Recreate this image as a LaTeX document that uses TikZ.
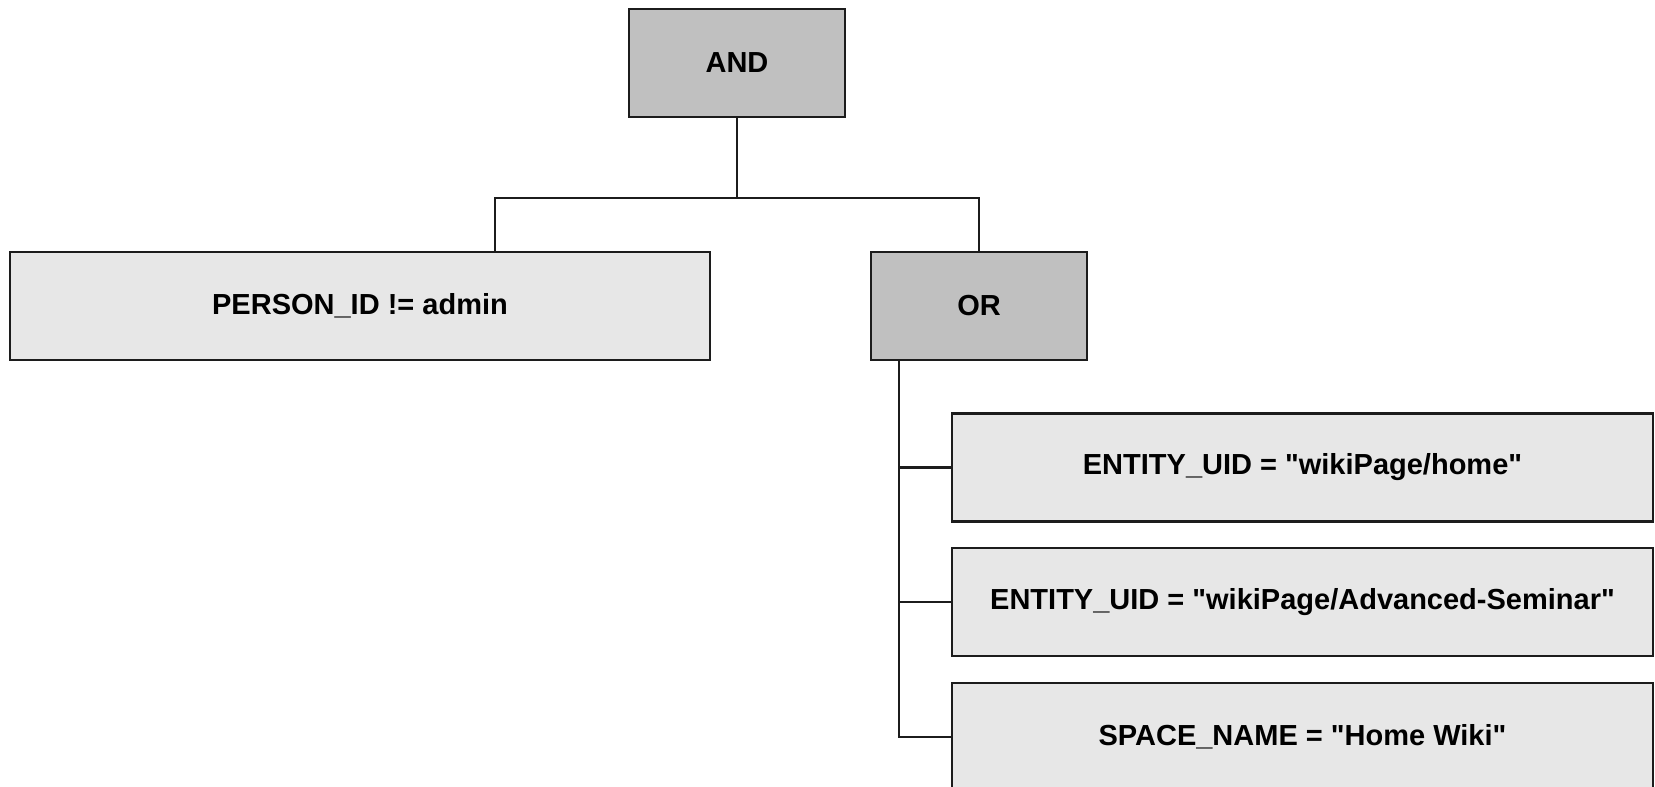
\documentclass[tikz,border=0pt]{standalone}
\usepackage{fontspec}
\newfontfamily\boxfont{Liberation Sans}
\usetikzlibrary{calc}

\definecolor{opfill}{RGB}{192,192,192}
\definecolor{leaffill}{RGB}{231,231,231}
\definecolor{edge}{RGB}{28,28,28}

\begin{document}
\begin{tikzpicture}[x=0.5pt, y=-0.5pt,
    opbox/.style={draw=edge, fill=opfill, line width=1.1pt, minimum width=108pt, minimum height=54pt,
      inner sep=0pt, font=\boxfont\fontsize{14.5}{17}\selectfont\bfseries},
    leafbox/.style={opbox, fill=leaffill},
    link/.style={draw=edge, line width=1.4pt}]
  \clip (0, 0) rectangle (1655, 787);

  \node[opbox] (and) at (737, 63) {AND};
  \node[leafbox, minimum width=350pt] (person) at (360, 306) {PERSON\_ID != admin};
  \node[opbox] (or) at (979, 306) {OR};
  \node[leafbox, minimum width=350.5pt] (uidhome) at (1302.5, 467.5) {ENTITY\_UID = "wikiPage/home"};
  \node[leafbox, minimum width=350.5pt] (uidsem) at (1302.5, 602) {ENTITY\_UID = "wikiPage/Advanced-Seminar"};
  \node[leafbox, minimum width=350.5pt] (space) at (1302.5, 737) {SPACE\_NAME = "Home Wiki"};

  % AND branches
  \coordinate (bus) at (737, 198);
  \coordinate (pdrop) at (495, 198);
  \draw[link] (and.south) -- (bus);
  \draw[link] (pdrop |- person.north) -- (pdrop) -- (bus) -| (or.north);

  % OR branches
  \coordinate (ordrop) at (899, 360);
  \draw[link] (ordrop |- or.south) -- (ordrop |- space.west) -- (space.west);
  \draw[link] (ordrop |- uidhome.west) -- (uidhome.west);
  \draw[link] (ordrop |- uidsem.west) -- (uidsem.west);
\end{tikzpicture}
\end{document}
